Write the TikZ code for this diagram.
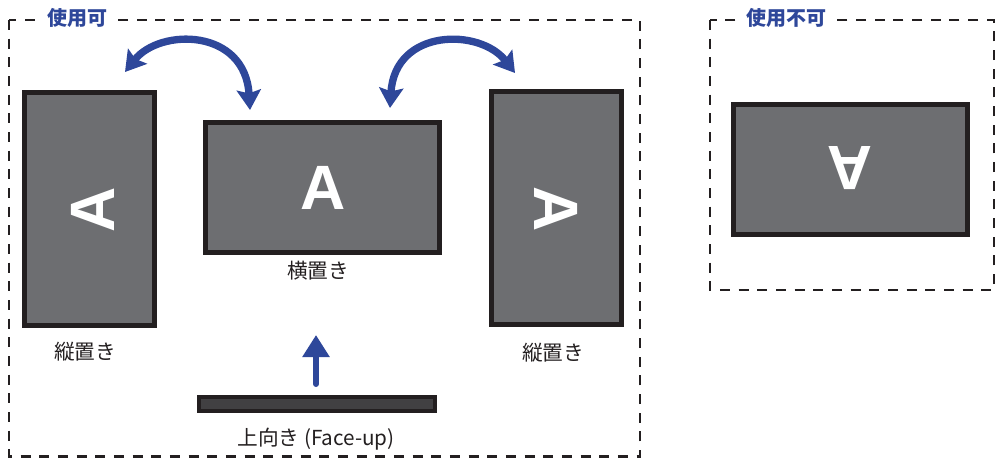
\documentclass[tikz,border=0pt]{standalone}
\usepackage{fontspec}
\setmainfont{Noto Sans CJK JP}
\newfontfamily\glyphfont{Liberation Sans}
\usetikzlibrary{arrows.meta}

\definecolor{frameblk}{HTML}{231F20}
\definecolor{screengray}{HTML}{6D6E71}
\definecolor{bardark}{HTML}{414042}
\definecolor{turnblue}{HTML}{2E479A}

\tikzset{
  screen/.style={draw=frameblk, line width=3.75pt, fill=screengray, inner sep=0pt, outer sep=0pt},
  portrait/.style={screen, minimum width=97.5pt, minimum height=174.75pt},
  landscape/.style={screen, minimum width=176pt, minimum height=97.5pt},
  glyph/.style={font=\glyphfont\bfseries\fontsize{47}{47}\selectfont, text=white, inner sep=0pt},
  caption/.style={font=\fontsize{15.5}{17}\selectfont, text=frameblk, inner sep=0.75pt},
  zone/.style={draw=frameblk, line width=2.2pt, dash pattern=on 7.5pt off 6.5pt},
  zonetitle/.style={font=\bfseries\fontsize{15}{17}\selectfont, text=turnblue, fill=white, inner xsep=7pt, inner ysep=1pt},
  turn/.style={draw=turnblue, line width=5.5pt, {Stealth[width=18pt,length=15pt,inset=2.5pt]}-{Stealth[width=18pt,length=15pt,inset=2.5pt]}},
  lift/.style={draw=turnblue, line width=4.5pt, line cap=round, -{Triangle[width=19.5pt,length=16.5pt]}},
}

\begin{document}
\begin{tikzpicture}[x=0.75pt,y=0.75pt,yscale=-1,xscale=1]
\useasboundingbox (0,0) rectangle (995,458);

%Shape: Dashed frames
\draw [zone] (9,20) rectangle (640,456.5);
\draw [zone] (710,20) rectangle (994,290);

% Text Node
\node [zonetitle] (okTitle) at (77.5,18) {使用可};
% Text Node
\node [zonetitle] (ngTitle) at (786,18) {使用不可};

%Shape: Screens
\node [portrait] (portL) at (89.5,209) {};
\node [landscape] (land) at (322.5,187.5) {};
\node [portrait] (portR) at (556.5,208) {};
\node [landscape] (flipped) at (850.5,169) {};
%Shape: Face-up bar
\node [draw=frameblk, line width=3pt, fill=bardark, minimum width=177pt, minimum height=11pt, inner sep=0pt] (faceup) at (317,404) {};

% Glyphs
\node [glyph, rotate=90] (glyphL) at (93,210) {A};
\node [glyph] (glyphC) at (323,187.5) {A};
\node [glyph, rotate=-90] (glyphR) at (556,209) {A};
\node [glyph, rotate=180] (glyphN) at (850,168) {A};

% Text Node
\node [caption] (capL) at (85,352) {縦置き};
% Text Node
\node [caption] (capC) at (318,271) {横置き};
% Text Node
\node [caption] (capR) at (553,353) {縦置き};
% Text Node
\node [caption] (capF) at (316,439) {上向き (Face-up)};

%Curve Lines
\coordinate (turnLa) at (125,72);
\coordinate (turnLb) at (250,110);
\coordinate (turnRa) at (390,108);
\coordinate (turnRb) at (515,73);
\draw [turn] (turnLa) .. controls (160,28) and (245,28) .. (turnLb);
\draw [turn] (turnRa) .. controls (395,28) and (480,28) .. (turnRb);

%Straight Lines
\coordinate (liftA) at (316,384);
\coordinate (liftB) at (316,335);
\draw [lift] (liftA) -- (liftB);

\end{tikzpicture}
\end{document}
